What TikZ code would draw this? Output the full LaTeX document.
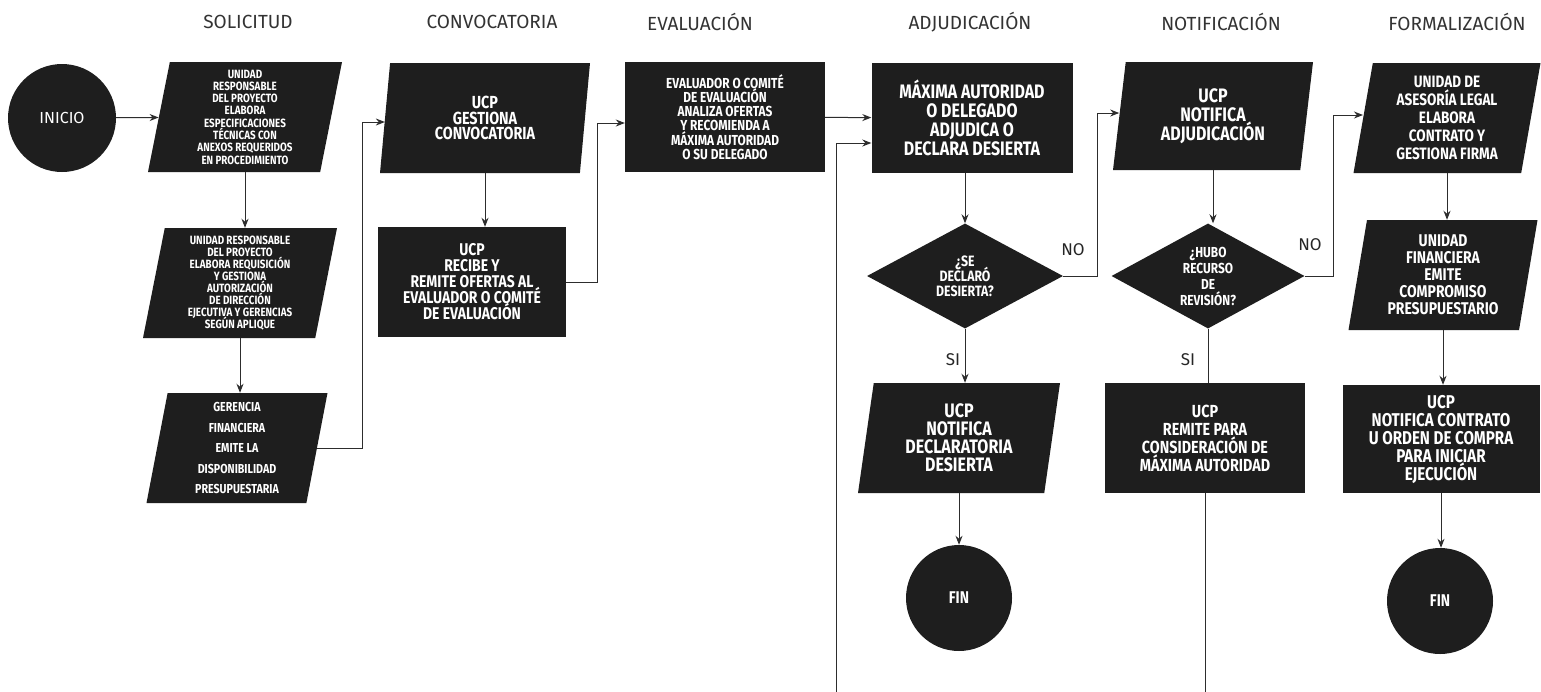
\documentclass[tikz,border=0pt]{standalone}
\usepackage{fontspec}
\setmainfont{Fira Sans}
\newfontfamily\boxfont[FakeStretch=0.82]{Fira Sans}
\usetikzlibrary{shapes.geometric,arrows.meta}

\definecolor{boxblack}{RGB}{30,30,30}
\definecolor{linegray}{RGB}{45,45,45}
\newcommand{\fsz}[2]{\fontsize{#1}{#2}\selectfont\lineskiplimit=-100pt\relax}

\tikzset{
	phase/.style={font=\fsz{19}{22}, text=black!80},
	sz/.style 2 args={font=\boxfont\bfseries\fsz{#1}{#2}},
	proc/.style={rectangle, fill=boxblack, text=white, align=center, inner sep=0pt},
	iobox/.style={trapezium, trapezium left angle=77, trapezium right angle=103,
		trapezium stretches body, fill=boxblack, text=white, align=center, inner sep=0pt},
	decide/.style={diamond, aspect=1.87, fill=boxblack, text=white, align=center, inner sep=0pt},
	term/.style={circle, fill=boxblack, text=white, inner sep=0pt},
	conn/.style={line width=1pt, draw=linegray, -{Stealth[length=9pt,width=7pt]}},
	plain/.style={line width=1pt, draw=linegray},
	lbl/.style={font=\fsz{17}{20}, text=black!85}
}

\begin{document}
\begin{tikzpicture}[x=1pt,y=-1pt]
	\fill[white] (0,0) rectangle (1541,691);
	\useasboundingbox (0,0) rectangle (1541,691);

	% fases
	\node[phase] (tsol) at (248,22) {SOLICITUD};
	\node[phase] (tconv) at (492,22) {CONVOCATORIA};
	\node[phase] (teval) at (700,22) {EVALUACIÓN};
	\node[phase] (tadj) at (970,22) {ADJUDICACIÓN};
	\node[phase] (tnot) at (1221,22) {NOTIFICACIÓN};
	\node[phase] (tform) at (1457,22) {FORMALIZACIÓN};

	% solicitud
	\node[term, minimum size=108pt, font=\fsz{16}{18}] (inicio) at (62,118) {INICIO};
	\node[iobox, sz={12}{12.3}, minimum width=194pt, minimum height=110pt] (s1) at (245,117)
		{UNIDAD\\RESPONSABLE\\DEL PROYECTO\\ELABORA\\ESPECIFICACIONES\\TÉCNICAS CON\\ANEXOS REQUERIDOS\\EN PROCEDIMIENTO};
	\node[iobox, sz={12}{12}, minimum width=194pt, minimum height=110pt] (s2) at (240,283)
		{UNIDAD RESPONSABLE\\DEL PROYECTO\\ELABORA REQUISICIÓN\\Y GESTIONA\\AUTORIZACIÓN\\DE DIRECCIÓN\\EJECUTIVA Y GERENCIAS\\SEGÚN APLIQUE};
	\node[iobox, sz={13}{20.5}, minimum width=181pt, minimum height=110pt] (s3) at (237,448)
		{GERENCIA\\FINANCIERA\\EMITE LA\\DISPONIBILIDAD\\PRESUPUESTARIA};

	% convocatoria
	\node[iobox, sz={17.5}{15.5}, minimum width=210pt, minimum height=110pt] (c1) at (485,118)
		{UCP\\GESTIONA\\CONVOCATORIA};
	\node[proc, sz={17}{16}, minimum width=188pt, minimum height=110pt] (c2) at (472,282)
		{UCP\\RECIBE Y\\REMITE OFERTAS AL\\EVALUADOR O COMITÉ\\DE EVALUACIÓN};

	% evaluacion
	\node[proc, sz={14.5}{14.2}, minimum width=200pt, minimum height=110pt] (e1) at (725,117)
		{EVALUADOR O COMITÉ\\DE EVALUACIÓN\\ANALIZA OFERTAS\\Y RECOMIENDA A\\MÁXIMA AUTORIDAD\\O SU DELEGADO};

	% adjudicacion
	\node[proc, sz={19.5}{19}, minimum width=201pt, minimum height=110pt] (a1) at (972,118)
		{MÁXIMA AUTORIDAD\\O DELEGADO\\ADJUDICA O\\DECLARA DESIERTA};
	\node[decide, sz={15}{15}, minimum width=196pt, minimum height=105pt] (a2) at (965,276)
		{¿SE\\DECLARÓ\\DESIERTA?};
	\node[iobox, sz={19.5}{18}, minimum width=202pt, minimum height=110pt] (a3) at (959,438)
		{UCP\\NOTIFICA\\DECLARATORIA\\DESIERTA};
	\node[term, minimum size=106pt, sz={17}{19}] (a4) at (959,598) {FIN};

	% notificacion
	\node[iobox, sz={19.5}{19}, minimum width=200pt, minimum height=108pt] (n1) at (1213,116)
		{UCP\\NOTIFICA\\ADJUDICACIÓN};
	\node[decide, sz={14.5}{16}, minimum width=193pt, minimum height=105pt] (n2) at (1208,276)
		{¿HUBO\\RECURSO\\DE\\REVISIÓN?};
	\node[proc, sz={17.5}{18}, minimum width=200pt, minimum height=110pt] (n3) at (1205,438)
		{UCP\\REMITE PARA\\CONSIDERACIÓN DE\\MÁXIMA AUTORIDAD};

	% formalizacion
	\node[iobox, sz={16.5}{18}, minimum width=187pt, minimum height=110pt] (f1) at (1447,118)
		{UNIDAD DE\\ASESORÍA LEGAL\\ELABORA\\CONTRATO Y\\GESTIONA FIRMA};
	\node[iobox, sz={17}{17}, minimum width=189pt, minimum height=110pt] (f2) at (1443,275)
		{UNIDAD\\FINANCIERA\\EMITE\\COMPROMISO\\PRESUPUESTARIO};
	\node[proc, sz={18.5}{18}, minimum width=197pt, minimum height=108pt] (f3) at (1441,439)
		{UCP\\NOTIFICA CONTRATO\\U ORDEN DE COMPRA\\PARA INICIAR\\EJECUCIÓN};
	\node[term, minimum size=106pt, sz={17}{19}] (f4) at (1440,601) {FIN};

	% etiquetas
	\node[lbl] (no1) at (1073,250) {NO};
	\node[lbl] (si1) at (953,360) {SI};
	\node[lbl] (no2) at (1310,245) {NO};
	\node[lbl] (si2) at (1188,360) {SI};
	\coordinate (loop) at (836,720);

	% conectores
	\draw[conn] (inicio) -- (s1);
	\draw[conn] (s1.south) -- (s1.south |- s2.north);
	\draw[conn] (s2.south) -- (s2.south |- s3.north);
	\draw[conn] (s3.east) -- ++(45,0) |- ([yshift=-4pt]c1.west);
	\draw[conn] (c1.south) -- (c1.south |- c2.north);
	\draw[conn] (c2.east) -- ++(31,0) |- ([yshift=-6pt]e1.west);
	\draw[conn] (e1) -- (a1);
	\draw[conn] (a2.north |- a1.south) -- (a2.north);
	\draw[conn] (a2.east) -- ++(34,0) |- ([yshift=3pt]n1.west);
	\draw[conn] (a2.south) -- (a2.south |- a3.north);
	\draw[conn] (a3.south) -- (a3.south |- a4.north);
	\draw[conn] (n1.south) -- (n1.south |- n2.north);
	\draw[conn] (n2.east) -- ++(29,0) |- ([yshift=3pt]f1.west);
	\draw[plain] (n2.south) -- (n2.south |- n3.north);
	\draw[conn] (n3.south) |- (loop) |- ([yshift=-25pt]a1.west);
	\draw[conn] (f1.south) -- (f1.south |- f2.north);
	\draw[conn] (f2.south) -- (f2.south |- f3.north);
	\draw[conn] (f3.south) -- (f3.south |- f4.north);
\end{tikzpicture}
\end{document}
